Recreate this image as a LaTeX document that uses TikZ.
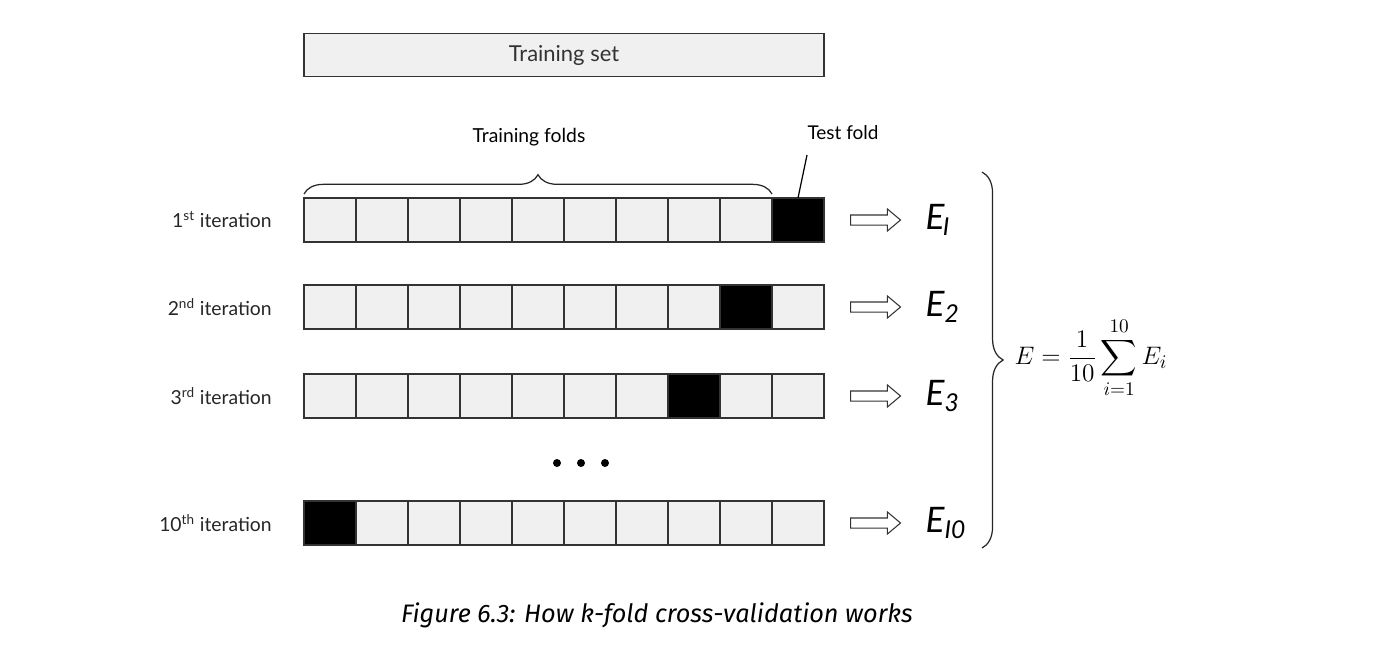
\documentclass[tikz,border=0pt]{standalone}
\usepackage{fontspec}
\usepackage{amsmath}
\setsansfont{Lato}
\newfontfamily\capfont{Fira Sans}
\usetikzlibrary{decorations.pathreplacing, calc, shapes.arrows, positioning}
\tikzset{
  fold/.style={
    rectangle, minimum width=1.04cm, minimum height=0.88cm,
    inner sep=0pt, outer sep=0pt, draw=black!80, fill=black!6, line width=0.7pt
  },
  testfold/.style={
    fold, fill=black
  },
  setbox/.style={
    rectangle, minimum width=10.4cm, minimum height=0.86cm,
    inner sep=0pt, draw=black!80, fill=black!6, line width=0.7pt,
    font=\sffamily\fontsize{12.5}{14}\selectfont, text=black!80
  },
  iterlabel/.style={
    font=\sffamily\fontsize{11}{13}\selectfont, text=black!85, anchor=east, inner sep=0pt
  },
  bigarrow/.style={
    single arrow, draw=black!80, fill=white, line width=0.6pt,
    minimum height=1cm, inner xsep=0pt, inner ysep=0.09cm,
    single arrow head extend=0.12cm, single arrow tip angle=80
  },
  errlabel/.style={
    font=\sffamily\itshape\fontsize{20}{23}\selectfont, anchor=west, inner sep=0pt
  },
  brace/.style={
    decorate, line width=0.7pt, draw=black!85
  }
}

\begin{document}
\begin{tikzpicture}[x=0.02cm, y=-0.02cm]
  \useasboundingbox (0,0) rectangle (1388,646);

  % Training set
  \node[setbox] (trainset) at (564,55) {Training set};

  % Folds, one row per iteration
  \foreach \row/\y/\test/\lab/\sub in {1/220/10/{1\textsuperscript{st}}/{\kern-1pt I},
                                       2/307/9/{2\textsuperscript{nd}}/2,
                                       3/396/8/{3\textsuperscript{rd}}/3,
                                       10/523/1/{10\textsuperscript{th}}/{I0}} {
    \foreach \k in {1,...,10} {
      \ifnum\k=\test \def\sty{testfold}\else\def\sty{fold}\fi
      \node[\sty] (c\row-\k) at ({304+52*\k-26},\y) {};
    }
    \node[iterlabel, left=0.64cm of c\row-1] (lab\row) {\lab\ iteration};
    \node[bigarrow, right=0.52cm of c\row-10] (arr\row) {};
    \node[errlabel, right=0.48cm of arr\row] (err\row) {E\textsubscript{\sub}};
  }

  % Training folds brace and test fold label
  \draw[brace, decoration={brace, amplitude=11pt}]
    ($(c1-1.north west)+(0,-4)$) -- ($(c1-9.north east)+(0,-4)$);
  \node[font=\sffamily\fontsize{11}{13}\selectfont] (foldslbl) at (529,137) {Training folds};
  \node[font=\sffamily\fontsize{10.8}{13}\selectfont] (testlbl) at (843,133) {Test fold};
  \draw[line width=0.7pt] (c1-10.north) -- ++(9,-43);

  % Dots
  \foreach \i in {0,1,2} \fill (557+24*\i,463) circle (4);

  % Average brace and formula
  \draw[brace, decoration={brace, amplitude=12pt}] (982,172) -- (982,548);
  \node (avg) at (1091,358)
    {\fontsize{15}{18}\selectfont $E=\dfrac{1}{10}\displaystyle\sum_{i=1}^{10}E_i$};

  % Caption
  \node[font=\capfont\itshape\fontsize{14.4}{17}\selectfont] (caption) at (657,615)
    {Figure 6.3: How k-fold cross-validation works};
\end{tikzpicture}
\end{document}
